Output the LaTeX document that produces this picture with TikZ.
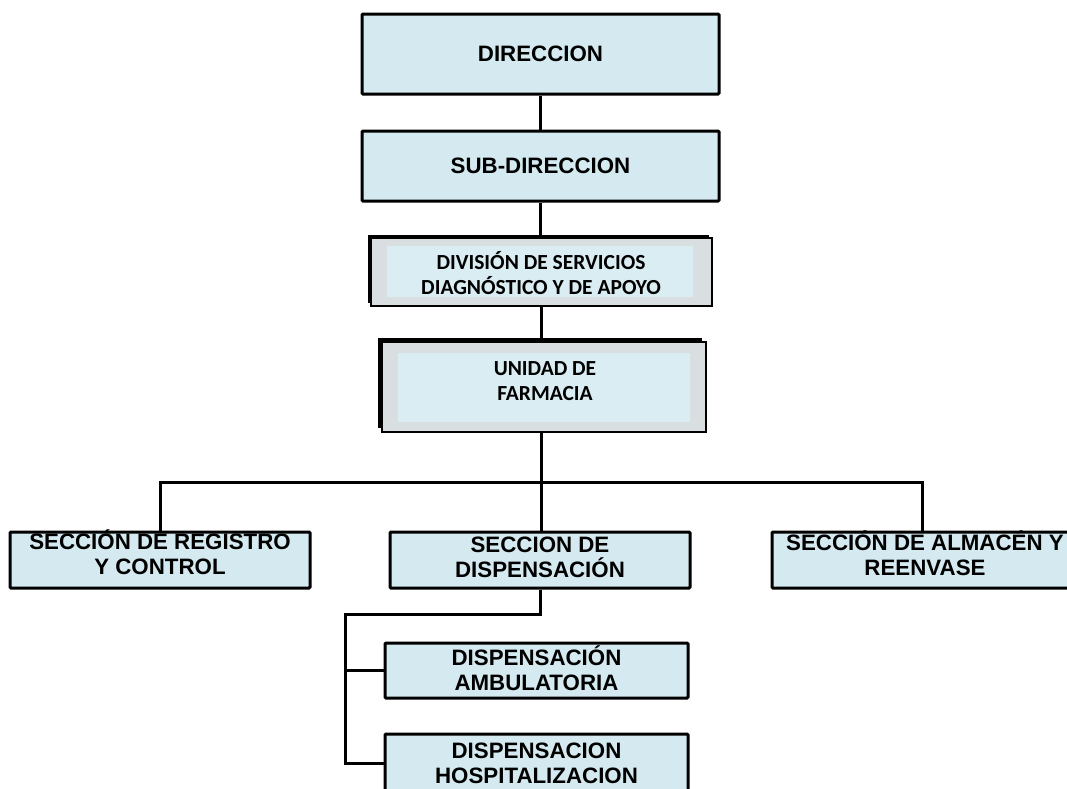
\documentclass[tikz,border=0pt]{standalone}
\usepackage{fontspec}
\newfontfamily\arialfont{Liberation Sans}
\newfontfamily\calfont{Carlito}
\usetikzlibrary{shadows}
\definecolor{boxblue}{HTML}{D4EAF0}
\definecolor{boxgrey}{HTML}{D9DFE1}
\definecolor{innerblue}{HTML}{DAEDF3}
\begin{document}
\begin{tikzpicture}[x=1pt,y=-1pt,
  unitbox/.style={draw=black, line width=3pt, fill=boxblue, rounded corners=1pt,
    inner sep=0pt, align=center,
    font=\arialfont\bfseries\fontsize{22.3}{25}\selectfont},
  boxtext/.style={inner sep=0pt, align=center,
    font=\arialfont\bfseries\fontsize{22.3}{25}\selectfont},
  greybox/.style={draw=black, line width=1.2pt, fill=boxgrey, inner sep=0pt,
    general shadow={fill=black, shadow xshift=-#1, shadow yshift=#1}},
  innerbox/.style={fill=innerblue, inner sep=0pt},
  caltext/.style={align=center, inner sep=0pt,
    font=\calfont\bfseries\fontsize{21.5}{24.5}\selectfont},
  link/.style={line width=3pt},
]
\path[use as bounding box, clip] (0,0) rectangle (1067,788);
\fill[white] (0,0) rectangle (1067,788);

% top of the hierarchy
\node[unitbox, minimum width=357pt, minimum height=80pt] (dir) at (540.5,54) {DIRECCION};
\node[unitbox, minimum width=357pt, minimum height=70pt] (sub) at (540.5,166) {SUB-DIRECCION};

% division box with its inner panel
\node[greybox=3pt, minimum width=341pt, minimum height=68pt] (div) at (541.5,272) {};
\node[innerbox, minimum width=306pt, minimum height=51pt] (divin) at (540,271.5) {};
\node[caltext] (divtxt) at (541,273) {DIVISIÓN DE SERVICIOS\\DIAGNÓSTICO Y DE APOYO};

% pharmacy unit with its inner panel
\node[greybox=4pt, minimum width=324pt, minimum height=90pt] (uni) at (544,387) {};
\node[innerbox, minimum width=292pt, minimum height=69pt] (uniin) at (544,387.5) {};
\node[caltext] (unitxt) at (545,381) {UNIDAD DE\\FARMACIA};

% sections
\node[unitbox, minimum width=300pt, minimum height=56pt] (reg) at (160,560) {};
\node[unitbox, minimum width=300pt, minimum height=56pt] (disp) at (540,560) {};
\node[unitbox, minimum width=300pt, minimum height=56pt] (alm) at (922,560) {};
\node[boxtext] (regtxt) at ([yshift=8pt]reg.center) {SECCIÓN DE REGISTRO\\Y CONTROL};
\node[boxtext] (disptxt) at ([yshift=3pt]disp.center) {SECCION DE\\DISPENSACIÓN};
\node[boxtext] (almtxt) at ([xshift=3pt,yshift=7pt]alm.center) {SECCIÓN DE ALMACÉN Y\\REENVASE};

% dispensing sub-units
\node[unitbox, minimum width=303pt, minimum height=55pt] (amb) at (536.5,670.5) {};
\node[unitbox, minimum width=303pt, minimum height=58pt] (hos) at (536.5,763) {};
\node[boxtext] (ambtxt) at ([yshift=2pt]amb.center) {DISPENSACIÓN\\AMBULATORIA};
\node[boxtext] (hostxt) at (hos.center) {DISPENSACION\\HOSPITALIZACION};

% connectors
\coordinate (bus) at (541,482);
\coordinate (spine) at (345,614);
\draw[link] (dir.south) -- (sub.north);
\draw[link] (sub.south) -- (sub.south |- div.north);
\draw[link] (div.south -| bus) -- (uni.north -| bus);
\draw[link] (uni.south -| bus) -- (disp.north -| bus);
\draw[link] (reg.north) |- (bus) -| (alm.north);
\draw[link] (disp.south) |- (spine) -- (spine |- hos.west) -- (hos.west);
\draw[link] (spine |- amb.west) -- (amb.west);
\end{tikzpicture}
\end{document}
